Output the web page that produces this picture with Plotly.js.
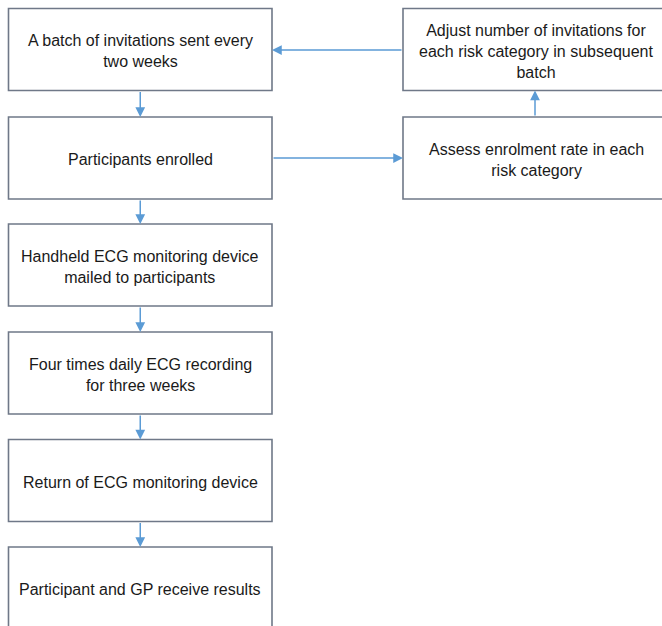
<!DOCTYPE html>
<html>
<head>
<meta charset="utf-8">
<script src="https://cdn.plot.ly/plotly-3.0.1.min.js"></script>
<style>html,body{margin:0;padding:0;background:#fff;}#chart{width:662px;height:626px;}</style>
</head>
<body>
<div id="chart"></div>
<script>
// ---- Flowchart content ----
const mainSteps = [
  "A batch of invitations sent every<br>two weeks",
  "Participants enrolled",
  "Handheld ECG monitoring device<br>mailed to participants",
  "Four times daily ECG recording<br>for three weeks",
  "Return of ECG monitoring device",
  "Participant and GP receive results"
];
const sideSteps = [
  "Adjust number of invitations for<br>each risk category in subsequent<br>batch",
  "Assess enrolment rate in each<br>risk category"
];

// ---- Layout (pixel geometry, y downward) ----
const W = 662, H = 626;
const mainX0 = 8.5, mainX1 = 272;
const mainTops = [8.5, 117, 224, 332, 439.5, 547];
const boxH = 82;
const sideX0 = 403, sideX1 = 669;
const sideTops = [8.5, 117];
const boxLine = {color: '#6f7888', width: 1.6};
const arrowColor = '#5b9bd5';
const font = {family: 'Liberation Sans, Arial, sans-serif', size: 16, color: '#1a1a1a'};

const shapes = [];
const annotations = [];

function addBox(x0, x1, top, label) {
  shapes.push({type: 'rect', xref: 'x', yref: 'y', x0: x0, x1: x1, y0: top, y1: top + boxH,
    line: boxLine, fillcolor: 'rgba(0,0,0,0)', layer: 'above'});
  annotations.push({x: (x0 + x1) / 2, y: top + boxH / 2 + 1.5, xref: 'x', yref: 'y',
    text: label, showarrow: false, font: font, align: 'center', xanchor: 'center', yanchor: 'middle'});
}
function addArrow(tx, ty, hx, hy) {
  annotations.push({x: hx, y: hy, ax: tx, ay: ty, xref: 'x', yref: 'y', axref: 'x', ayref: 'y',
    text: '', showarrow: true, arrowhead: 2, arrowsize: 1.3, arrowwidth: 1.5,
    arrowcolor: arrowColor, standoff: 0, startstandoff: 0});
}

mainSteps.forEach((s, i) => addBox(mainX0, mainX1, mainTops[i], s));
sideSteps.forEach((s, i) => addBox(sideX0, sideX1, sideTops[i], s));

const cx = (mainX0 + mainX1) / 2;
for (let i = 0; i < mainSteps.length - 1; i++) {
  addArrow(cx, mainTops[i] + boxH, cx, mainTops[i + 1]);
}
// Enrolled -> Assess
addArrow(mainX1, 158, sideX0, 158);
// Assess -> Adjust
addArrow(535, sideTops[1], 535, sideTops[0] + boxH);
// Adjust -> Batch
addArrow(sideX0, 50, mainX1, 50);

const layout = {
  width: W, height: H,
  margin: {l: 0, r: 0, t: 0, b: 0},
  paper_bgcolor: '#ffffff', plot_bgcolor: '#ffffff',
  xaxis: {range: [0, W], visible: false, fixedrange: true},
  yaxis: {range: [H, 0], visible: false, fixedrange: true},
  shapes: shapes,
  annotations: annotations,
  showlegend: false
};
Plotly.newPlot('chart', [], layout, {staticPlot: true, displayModeBar: false});
</script>
</body>
</html>
